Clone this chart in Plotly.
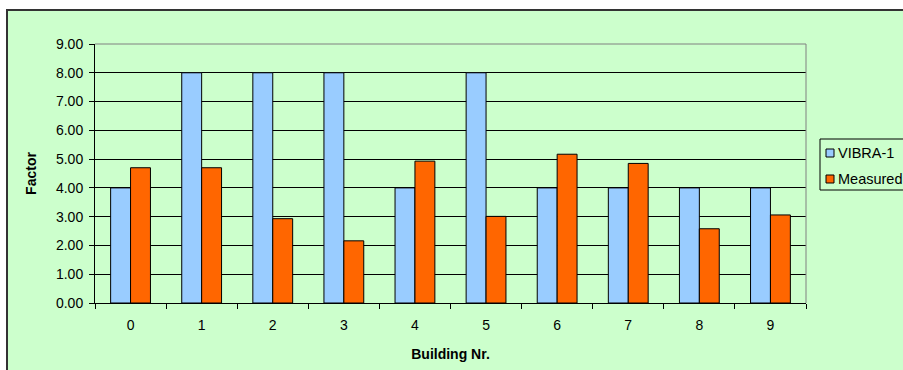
import plotly.graph_objects as go

# Building numbers and the two factor series
buildings = ["0", "1", "2", "3", "4", "5", "6", "7", "8", "9"]
vibra_1 = [4.0, 8.0, 8.0, 8.0, 4.0, 8.0, 4.0, 4.0, 4.0, 4.0]
measured = [4.70, 4.70, 2.93, 2.16, 4.93, 3.01, 5.17, 4.85, 2.58, 3.06]
y_ticks = [0, 1, 2, 3, 4, 5, 6, 7, 8, 9]
y_tick_text = [f"{v:.2f}" for v in y_ticks]
series_names = ["VIBRA-1", "Measured"]
series_colors = ["#99CCFF", "#FF6600"]

W, H = 903, 370
ML, MR, MT, MB = 95, 97, 44, 67
PW, PH = W - ML - MR, H - MT - MB


def px_x(px):
    return (px - ML) / PW


def px_y(py):
    return (H - MB - py) / PH


FONT = "Liberation Sans, Arial, sans-serif"

fig = go.Figure()
for name, values, color in zip(series_names, [vibra_1, measured], series_colors):
    fig.add_trace(go.Bar(
        x=buildings, y=values, name=name,
        marker=dict(color=color, line=dict(color="#000000", width=1)),
        showlegend=False,
    ))

shapes = [
    # chart frame (green area with dark border)
    dict(type="rect", xref="paper", yref="paper", layer="below",
         x0=px_x(7), x1=px_x(W + 20), y0=px_y(H + 20), y1=px_y(10),
         fillcolor="#CCFFCC", line=dict(color="#333333", width=2)),
    # grey plot-area border on top and right
    dict(type="path", xref="paper", yref="paper", layer="above",
         path="M0,1 L1,1 L1,0", line=dict(color="#808080", width=1)),
    # legend box
    dict(type="rect", xref="paper", yref="paper", layer="above",
         x0=px_x(820), x1=px_x(W + 20), y0=px_y(190), y1=px_y(139),
         fillcolor="rgba(0,0,0,0)", line=dict(color="#000000", width=1)),
]

annotations = []
legend_rows = [153, 179]
for name, color, row in zip(series_names, series_colors, legend_rows):
    shapes.append(dict(
        type="rect", xref="paper", yref="paper", layer="above",
        x0=px_x(826), x1=px_x(834), y0=px_y(row + 4), y1=px_y(row - 4),
        fillcolor=color, line=dict(color="#000000", width=1),
    ))
    annotations.append(dict(
        xref="paper", yref="paper", x=px_x(836), y=px_y(row),
        xanchor="left", yanchor="middle", showarrow=False,
        text=name, font=dict(family=FONT, size=14.5, color="#000000"),
    ))

fig.update_layout(
    width=W, height=H,
    margin=dict(l=ML, r=MR, t=MT, b=MB, autoexpand=False),
    paper_bgcolor="#FFFFFF",
    plot_bgcolor="#FFFFFF",
    font=dict(family=FONT, size=14, color="#000000"),
    barmode="group",
    bargap=0.44,
    bargroupgap=0,
    shapes=shapes,
    annotations=annotations,
    showlegend=False,
    xaxis=dict(
        type="category",
        tickson="boundaries",
        ticks="outside", ticklen=5, tickcolor="#000000", tickwidth=1,
        showline=True, linecolor="#000000", linewidth=1,
        showgrid=False,
        ticklabelstandoff=9,
        tickfont=dict(family=FONT, size=14),
        title=dict(text="<b>Building Nr.</b>", font=dict(family=FONT, size=14), standoff=17),
    ),
    yaxis=dict(
        range=[0, 9],
        tickvals=y_ticks, ticktext=y_tick_text,
        ticks="outside", ticklen=5, tickcolor="#000000", tickwidth=1,
        showline=True, linecolor="#000000", linewidth=1,
        showgrid=True, gridcolor="#000000", gridwidth=1,
        zeroline=False,
        ticklabelstandoff=3,
        tickfont=dict(family=FONT, size=14),
        title=dict(text="<b>Factor</b>", font=dict(family=FONT, size=14), standoff=16),
    ),
)

fig.write_html("out.html")
